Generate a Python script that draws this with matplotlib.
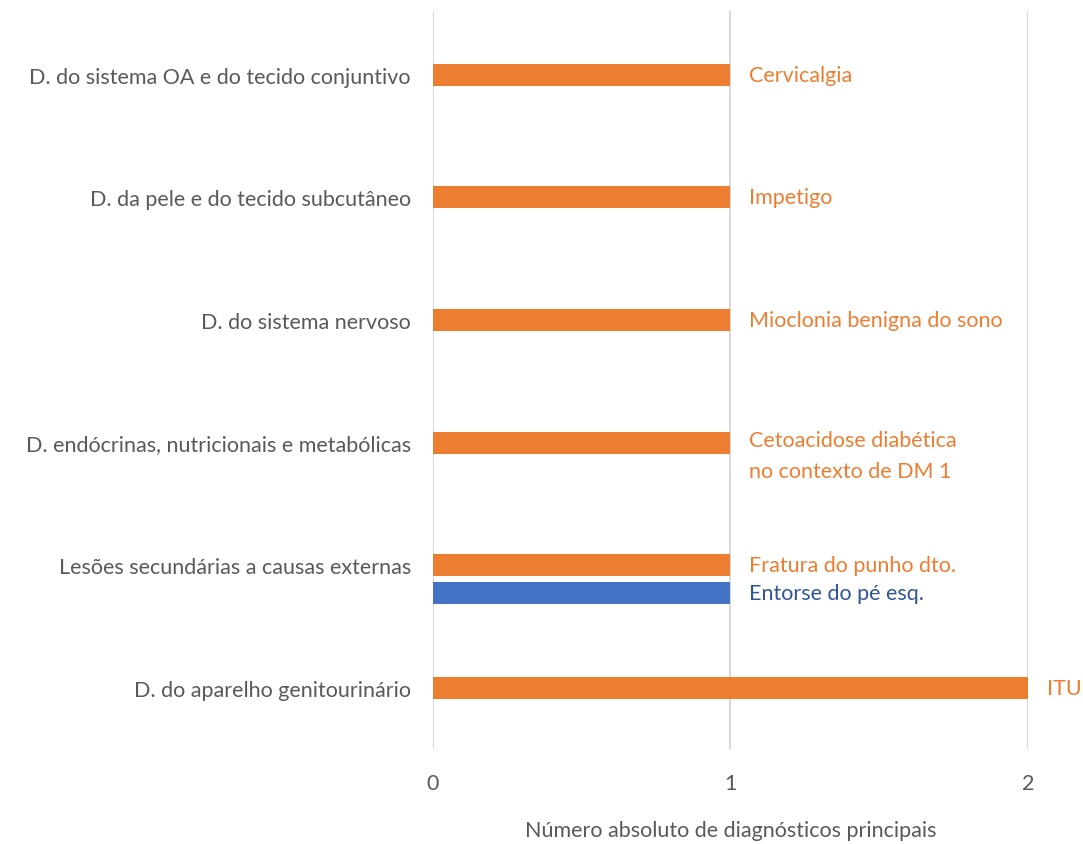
import matplotlib.pyplot as plt

plt.rcParams['font.family'] = ['Lato', 'DejaVu Sans']

# Categories, top to bottom
categories = [
    'D. do sistema OA e do tecido conjuntivo',
    'D. da pele e do tecido subcutâneo',
    'D. do sistema nervoso',
    'D. endócrinas, nutricionais e metabólicas',
    'Lesões secundárias a causas externas',
    'D. do aparelho genitourinário',
]
orange_values = [1, 1, 1, 1, 1, 2]
orange_labels = [
    'Cervicalgia',
    'Impetigo',
    'Mioclonia benigna do sono',
    'Cetoacidose diabética\nno contexto de DM 1',
    'Fratura do punho dto.',
    'ITU',
]
blue_category = 'Lesões secundárias a causas externas'
blue_value = 1
blue_label = 'Entorse do pé esq.'

ORANGE = '#ED7D31'
BLUE = '#4472C4'
BLUE_TEXT = '#2F5597'
GREY = '#595959'
FS = 15.5

fig = plt.figure(figsize=(10.83, 8.45), dpi=100)
ax = fig.add_axes([0.3998, 0.1124, 0.5494, 0.8734])

bar_h = 0.18
pos = list(range(len(categories)))
ax.barh(pos, orange_values, height=bar_h, color=ORANGE, zorder=3)

blue_pos = categories.index(blue_category) + 0.228
ax.barh([blue_pos], [blue_value], height=bar_h, color=BLUE, zorder=3)

# value labels to the right of each bar
for y, v, lab in zip(pos, orange_values, orange_labels):
    if '\n' in lab:
        ax.annotate(lab, (v, y), xytext=(19, 13), textcoords='offset pixels',
                    va='top', ha='left', color=ORANGE, fontsize=FS,
                    linespacing=1.7, annotation_clip=False)
    else:
        ax.annotate(lab, (v, y), xytext=(19, 0), textcoords='offset pixels',
                    va='center', ha='left', color=ORANGE, fontsize=FS,
                    annotation_clip=False)
ax.annotate(blue_label, (blue_value, blue_pos), xytext=(19, 0),
            textcoords='offset pixels', va='center', ha='left',
            color=BLUE_TEXT, fontsize=FS, annotation_clip=False)

ax.set_xlim(0, 2)
ax.set_ylim(5.5, -0.52)
ax.set_xticks([0, 1, 2])
ax.set_yticks(pos)
ax.set_yticklabels(categories)
ax.tick_params(axis='both', length=0, labelsize=FS, labelcolor=GREY)
ax.tick_params(axis='x', pad=17)
ax.tick_params(axis='y', pad=16)
ax.grid(axis='x', color='#D9D9D9', linewidth=1.5, zorder=0)
for s in ax.spines.values():
    s.set_visible(False)

ax.set_xlabel('Número absoluto de diagnósticos principais', fontsize=FS,
              color=GREY, labelpad=20)

plt.savefig('out.png', dpi=100)
